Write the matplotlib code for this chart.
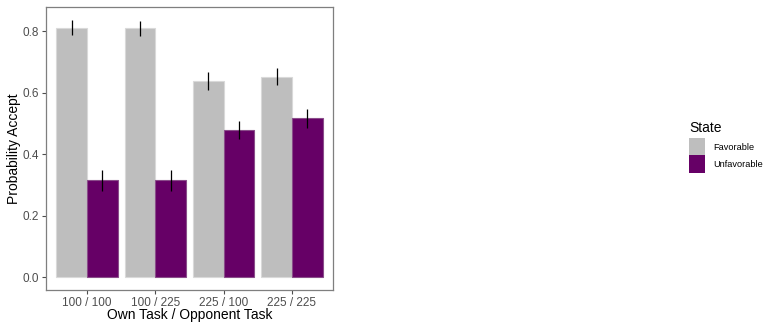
import numpy as np
import matplotlib.pyplot as plt
from matplotlib.patches import Patch

plt.rcParams['font.family'] = ['Liberation Sans', 'DejaVu Sans']

conditions = ["100 / 100", "100 / 225", "225 / 100", "225 / 225"]
favorable = [0.811, 0.809, 0.638, 0.652]
favorable_se = [0.024, 0.024, 0.029, 0.027]
unfavorable = [0.315, 0.315, 0.479, 0.516]
unfavorable_se = [0.034, 0.034, 0.030, 0.030]

fav_color = "#bebebe"
unfav_color = "#660066"

W, H = 766, 322
fig = plt.figure(figsize=(W / 100, H / 100), dpi=100)
ax = fig.add_axes([0.060, 0.0994, 0.3747, 0.8786])

x = np.arange(1, len(conditions) + 1)
w = 0.45
ax.bar(x - w / 2, favorable, width=w, color=fav_color, edgecolor="#d9d9d9", linewidth=0.8)
ax.bar(x + w / 2, unfavorable, width=w, color=unfav_color, edgecolor="#8a4d8a", linewidth=0.8)
ax.errorbar(x - w / 2, favorable, yerr=favorable_se, fmt="none", ecolor="black", elinewidth=0.9, capsize=0)
ax.errorbar(x + w / 2, unfavorable, yerr=unfavorable_se, fmt="none", ecolor="black", elinewidth=0.9, capsize=0)

ax.set_xlim(0.4, 4.6)
ax.set_ylim(-0.042, 0.878)
ax.set_xticks(x)
ax.set_xticklabels(conditions)
ax.set_yticks([0.0, 0.2, 0.4, 0.6, 0.8])
ax.set_yticklabels(["0.0", "0.2", "0.4", "0.6", "0.8"])
ax.tick_params(colors="#4d4d4d", labelsize=8.5, length=3, width=0.8, pad=2)
for s in ax.spines.values():
    s.set_color("#7f7f7f")
    s.set_linewidth(0.9)

ax.set_xlabel("Own Task / Opponent Task", fontsize=10)
ax.xaxis.set_label_coords(0.5, -0.063)
ax.set_ylabel("Probability Accept", fontsize=10)
ax.yaxis.set_label_coords(-0.087, 0.5)

# legend: title placed separately so the keys sit a bit lower
fig.text(689 / W, 1 - 121 / H, "State", fontsize=10, ha="left", va="top")
handles = [Patch(facecolor=fav_color, edgecolor="none"),
           Patch(facecolor=unfav_color, edgecolor="none")]
fig.legend(handles, ["Favorable", "Unfavorable"],
           loc="upper left", bbox_to_anchor=(689 / W, 1 - 138 / H),
           frameon=False, fontsize=6.6, borderpad=0,
           handlelength=1.75, handleheight=2.55, handletextpad=0.85,
           labelspacing=0.0, borderaxespad=0)

fig.savefig("out.png", dpi=100)
